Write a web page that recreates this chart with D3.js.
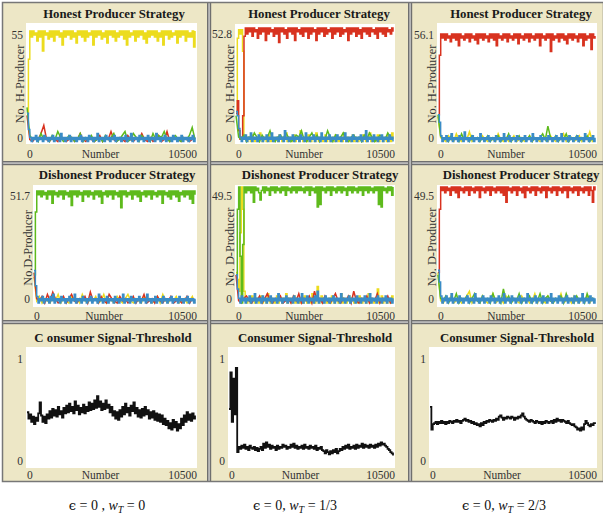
<!DOCTYPE html>
<html><head><meta charset="utf-8">
<script src="https://cdn.jsdelivr.net/npm/d3@7"></script>
<style>body{margin:0;background:#fff}text{font-family:"Liberation Serif","Times New Roman",serif}</style>
</head><body>
<svg id="c" width="603" height="523"></svg>
<script>
// ---------- DATA ----------
const xMax = 10500;
const xTickLabels = ["0", "10500"];
const xLabel = "Number";
const titles = ["Honest Producer Strategy", "Dishonest Producer Strategy", "C onsumer Signal-Threshold", "Consumer Signal-Threshold"];
const yLabels = ["No. H-Producer", "No.D-Producer", "No. D-Producer"];
const yMaxValues = [55, 52.8, 56.1, 51.7, 49.5, 49.5, 1, 1, 1];
const yMaxLabels = ["55", "52.8", "56.1", "51.7", "49.5", "49.5", "1", "1", "1"];
const captions = [["0 , ", "0"], ["0, ", "1/3"], ["0, ", "2/3"]];

// Panel 1: Honest, wT = 0
const hp0Yellow = [14,41,55,52,55,53,54,50,55,52,55,45,55,53,54,51,55,52,55,50,55,53,55,52,54,48,55,52,55,53,55,51,55,52,54,49,55,53,55,52,55,50,55,52,54,53,55,48,55,52,55,53,55,51,54,52,55,49,55,53,55,52,55,50,54,52,55,53,55,51,55,48,55,52,54,53,55,50,55,52,55,53,55,51,54,49,55,52,55,53,55,52,55,50,54,52,55,48,55,53,55,51,55,52,54,53,55,49,55,52,55,53,55,50,55,52,54,52,55,47,55];
const hp0Red = [13,1,0,2,1,4,8,1,0,2,1,0,3,1,0,1,2,0,1,4,1,0,2,1,0,1,3,0,2,1,5,1,0,2,1,0,3,1,0,2,1,4,1,0,2,0,1,3,0,1,5,0,1,2,1,0,2,1,0,1,2];
const hp0Green = [17,3,1,2,0,4,1,2,0,3,1,5,2,0,1,3,2,0,1,4,0,2,1,3,0,1,2,0,3,1,2,4,0,1,3,5,0,1,4,2,0,3,1,2,0,4,1,3,2,5,1,0,2,3,1,0,2,1,3,7,1];
const hp0Blue = [14,6,2,0,2,1,3,0,2,1,2,0,3,1,2,0,2,1,3,0,2,1,2,0,4,1,2,0,2,1,3,0,2,1,2,0,2,1,3,0,2,1,2,0,3,1,2,0,2,1,4,0,2,1,2,0,3,1,2,0,2,1,3,0,2,1,2,0,2,1,3,0,2,1,4,0,2,1,2,0,3,1,2,0,2,1,3,0,2,1,2,0,4,1,2,0,2,1,3,0,2,1,2,0,3,1,2,0,2,1,3,0,2,1,2,0,2,1,3,0,2];

// Panel 2: Honest, wT = 1/3
const hp1Yellow = [14,48,52,50,52,42,3,1,0,2,1,0,3,1,0,1,2,0,4,1,0,2,1,0,1,3,0,2,1,0,1,2,0,3,1,0,2,1,4,0,1,2,0,1,3,0,1,2,0,5,1,0,2,1,0,3,1,0,1,2,0,4,1,0,2,1,0,1,3,0,2,1,0,1,2,0,3,1,0,2,1,0,4,1,0,2,1,0,1,3,0,2,1,0,1,2,0,3,1,0,2,1,4,0,1,2,0,1,3,0,2,1,0,1,2,0,3,1,0,4,1];
const hp1Red = [13,19,5,1,2,12,49,52.8,50,52.8,51,52.8,49,52.8,51,52,48,52.8,50,52.8,51,52.8,47,52.8,50,52.8,51,52,49,52.8,50,52.8,46,52.8,51,52.8,50,52,48,52.8,51,52.8,50,52.8,47,52.8,51,52,50,52.8,49,52.8,51,52.8,48,52.8,50,52.8,51,52,47,52.8,50,52.8,51,52.8,49,52.8,50,52,51,52.8,48,52.8,50,52.8,51,52.8,49,52.8,50,52,51,52.8,47,52.8,50,52.8,51,52.8,49,52.8,50,52,48,52.8,51,52.8,50,52.8,49,52.8,51,52,50,52.8,48,52.8,51,52.8,50,52.8,49,52.8,51,52,50,52.8,51];
const hp1Green = [12,2,1,3,0,2,1,4,2,0,3,1,2,5,1,0,2,3,1,4,2,0,1,3,2,5,1,0,2,4,1,3,0,2,1,5,2,0,3,1,2,4,1,0,2,3,1,2,0,3,1,4,2,0,1,3,2,1,4,2,1];
const hp1Blue = [14,12,6,2,0,2,1,3,0,2,1,4,0,2,1,2,0,3,1,2,0,2,1,3,0,2,1,4,0,2,1,2,0,3,1,2,0,5,1,2,0,2,1,3,0,2,1,2,0,3,1,2,0,4,1,2,0,2,1,3,0,2,1,2,0,4,1,2,0,2,1,3,0,2,1,2,0,3,1,2,0,2,1,4,0,2,1,2,0,3,1,2,0,2,1,3,0,2,1,5,0,2,1,2,0,3,1,2,0,2,1,3,0,2,1,2,0,3,1,2,0];

// Panel 3: Honest, wT = 2/3
const hp2Yellow = [13,2,1,0,3,1,0,4,1,0,2,1,5,0,1,2,0,3,1,0,2,1,0,4,1,0,2,0,1,3,0,1,2,0,1,3,0,2,1,0,1,2,0,3,1,0,2,1,4,0,1,2,0,1,3,0,2,1,5,0,1];
const hp2Red = [14,45,56.1,54,56.1,53,56.1,54,55,52,56.1,54,56.1,53,56.1,50,56.1,54,55,53,56.1,54,56.1,52,56.1,54,55,53,56.1,51,56.1,54,56.1,53,56.1,54,55,52,56.1,54,56.1,53,56.1,50,56.1,54,55,53,56.1,54,56.1,52,56.1,54,55,53,56.1,54,56.1,51,56.1,54,55,53,56.1,54,56.1,52,56.1,54,55,53,56.1,54,56.1,50,56.1,54,55,53,56.1,54,56.1,47,56.1,53,55,54,56.1,52,56.1,54,56.1,53,55,51,56.1,54,56.1,53,56.1,54,55,52,56.1,54,56.1,50,56.1,53,55,54,56.1,48,56.1,54,55];
const hp2Green = [14,3,1,2,0,3,1,2,0,4,1,2,0,3,1,2,0,2,1,3,0,2,1,3,0,2,1,4,0,2,1,3,0,2,1,3,0,2,1,2,4,1,8,2,1,3,0,2,1,4,0,2,1,3,0,2,1,3,0,2,1];
const hp2Blue = [14,10,3,0,2,1,3,0,2,1,4,0,2,1,2,0,3,1,2,0,5,1,2,0,2,1,3,0,2,1,2,0,4,1,2,0,2,1,3,0,2,1,2,0,3,1,2,0,2,1,4,0,2,1,3,0,2,1,2,0,3,1,2,0,2,1,3,0,2,1,2,0,4,1,2,0,2,1,3,0,2,1,2,0,3,1,2,0,2,1,3,0,2,1,4,0,2,1,2,0,3,1,2,0,2,1,3,0,2,1,2,0,4,1,2,0,2,1,3,0,2];

// Panel 4: Dishonest, wT = 0
const dp0Yellow = [12,1,3,0,2,1,0,3,1,4,0,2,1,0,3,1,2,0,4,1,0,2,1,3,0,1,4,0,2,1,0,3,1,0,2,4,1,0,2,1,0,3,1,2,0,1,3,0,4,1,0,2,1,3,0,1,2,0,1,3,0];
const dp0Red = [14,2,1,3,0,4,1,5,2,0,1,3,0,2,4,1,0,2,1,3,0,5,1,2,0,3,1,0,4,2,1,0,3,1,2,0,1,3,0,2,1,4,0,1,2,0,3,1,0,2,1,3,0,1,2,0,1,3,0,2,1];
const dp0Green = [13,42,51.7,50,51.7,49,51.7,50,51,48,51.7,50,51.7,46,51.7,50,51,49,51.7,50,51.7,48,51.7,50,51,49,51.7,45,51.7,50,51.7,49,51.7,50,51,47,51.7,50,51.7,49,51.7,50,51,48,51.7,50,51.7,49,51.7,46,51,50,51.7,49,51.7,50,51.7,48,51.7,50,51,49,51.7,44,51.7,50,51.7,49,51,50,51.7,48,51.7,50,51.7,49,51.7,47,51,50,51.7,49,51.7,50,51.7,48,51.7,50,51,49,51.7,50,51.7,46,51.7,50,51,49,51.7,48,51.7,50,51.7,49,51.7,47,51,50,51.7,49,51.7,50,51.7,48,51.7,46,51.7,50];
const dp0Blue = [15,8,3,0,2,1,3,0,2,1,2,0,3,1,4,0,2,1,2,0,3,1,2,0,2,1,3,0,2,1,4,0,2,1,2,0,3,1,2,0,2,1,3,0,2,1,2,0,4,1,2,0,2,1,3,0,2,1,2,0,3,1,2,0,2,1,4,0,2,1,2,0,3,1,2,0,2,1,3,0,2,1,2,0,4,1,2,0,2,1,3,0,2,1,2,0,3,1,2,0,2,1,3,0,2,1,2,0,3,1,2,0,2,1,3,0,2,1,2,0,2];

// Panel 5: Dishonest, wT = 1/3
const dp1Yellow = [13,10,5,30,49.5,40,5,1,0,2,1,0,3,1,0,2,1,0,1,3,0,2,1,0,4,1,0,2,1,0,1,3,0,2,1,0,2,1,4,0,1,2,0,1,3,0,2,1,0,1,2,0,3,1,0,2,1,0,4,1,0,2,7,0,1,3,0,2,1,0,1,2,0,3,1,0,2,1,0,1,4,0,2,1,0,1,3,0,2,1,0,1,2,0,3,1,0,2,1,0,1,4,0,2,1,0,1,2,6,0,1,3,0,2,1,0,1,2,0,3,1];
const dp1Red = [12,1,0,2,3,1,0,2,1,3,0,2,4,1,0,2,1,3,0,1,2,0,3,1,4,0,2,1,3,0,5,1,2,0,3,1,0,2,4,1,0,2,1,3,0,5,1,0,2,1,3,0,2,1,4,0,2,1,3,0,1];
const dp1Green = [12,40,49.5,20,0,25,49.5,47,49.5,48,49.5,47,49.5,43,49.5,48,49,47,44,48,49.5,47,49.5,48,49,46,49.5,48,49.5,47,49.5,48,49,47,49.5,48,49.5,46,49.5,48,49,47,49.5,48,49.5,47,49.5,48,49.5,48,49,47,49.5,48,49.5,46,49.5,48,49,47,49.5,41,49.5,42,49.5,48,49,47,49.5,48,49.5,46,49.5,48,49,47,49.5,48,49.5,47,49.5,48,49,46,49.5,48,49.5,47,49.5,48,49,47,49.5,48,49.5,46,49.5,48,49.5,47,49.5,48,49,47,49.5,48,49.5,42,49.5,41,49.5,48,49,47,49.5,48,49.5,46,49.5];
const dp1Blue = [12,6,2,0,3,1,2,0,2,1,3,0,2,1,4,0,2,1,2,0,3,1,2,0,2,1,3,0,2,1,2,0,4,1,2,0,2,1,3,0,2,1,2,0,3,1,2,0,2,1,4,0,2,1,3,0,2,1,2,0,3,1,5,0,2,1,2,0,3,1,2,0,2,1,3,0,2,1,2,0,4,1,2,0,2,1,3,0,2,1,2,0,3,1,2,0,2,1,3,0,2,1,4,0,2,1,2,0,3,1,2,0,2,1,3,0,2,1,2,0,2];

// Panel 6: Dishonest, wT = 2/3
const dp2Yellow = [13,1,0,2,1,3,0,1,2,0,1,3,5,0,2,1,0,3,1,0,2,4,0,1,2,0,3,1,0,2,1,0,3,1,2,0,1,4,0,2,1,0,3,1,0,2,1,4,0,1,2,0,3,1,0,2,1,3,0,2,1];
const dp2Red = [13,40,49.5,48,49.5,47,49.5,48,49,46,49.5,48,49.5,47,49.5,45,49.5,48,49,47,49.5,48,49.5,46,49.5,48,49,47,49.5,48,49.5,45,49.5,48,49,47,49.5,48,49.5,46,49.5,48,49,47,49.5,48,49.5,47,49.5,46,49.5,43,49.5,48,49,47,49.5,48,49.5,46,49.5,48,49,47,49.5,45,49.5,48,49,47,49.5,48,49.5,46,49.5,48,49,47,49.5,48,49.5,45,49.5,48,49,47,49.5,48,49.5,46,49.5,48,49,47,49.5,48,49.5,45,49.5,48,49,47,49.5,48,49.5,46,49.5,48,49,47,49.5,48,49.5,46,49.5,48,43,49.5,48];
const dp2Green = [12,2,1,3,0,2,1,4,0,2,1,3,0,2,4,1,0,3,1,2,0,4,1,2,0,6,1,3,0,2,1,4,0,2,1,3,0,2,1,4,0,2,3,1,0,2,1,3,0,4,1,2,0,3,1,2,0,4,1,2,1];
const dp2Blue = [14,9,3,0,2,1,3,0,2,1,4,0,2,1,2,0,3,1,2,0,2,1,3,0,2,1,2,0,4,1,2,0,2,1,3,0,2,1,2,0,3,1,2,0,2,1,3,0,2,1,4,0,2,1,2,0,3,1,2,0,2,1,3,0,2,1,2,0,4,1,2,0,2,1,3,0,2,1,2,0,3,1,2,0,2,1,4,0,2,1,2,0,3,1,2,0,2,1,3,0,2,1,2,0,3,1,2,0,2,1,4,0,2,1,2,0,3,1,2,0,2];

// Row 3: consumer signal threshold
const ct0 = [0.47,0.41,0.45,0.38,0.43,0.36,0.42,0.39,0.46,0.56,0.44,0.38,0.43,0.37,0.45,0.41,0.48,0.42,0.50,0.44,0.49,0.43,0.52,0.45,0.48,0.42,0.51,0.46,0.53,0.47,0.55,0.48,0.52,0.46,0.57,0.49,0.53,0.45,0.51,0.47,0.54,0.46,0.52,0.48,0.56,0.49,0.55,0.50,0.58,0.51,0.62,0.52,0.57,0.49,0.55,0.50,0.58,0.51,0.54,0.47,0.52,0.44,0.48,0.41,0.47,0.40,0.49,0.43,0.52,0.45,0.55,0.47,0.51,0.44,0.53,0.48,0.56,0.46,0.51,0.43,0.49,0.42,0.50,0.44,0.52,0.45,0.49,0.41,0.47,0.42,0.48,0.40,0.46,0.39,0.45,0.38,0.44,0.36,0.41,0.35,0.39,0.32,0.37,0.31,0.40,0.33,0.38,0.30,0.36,0.32,0.41,0.35,0.44,0.38,0.47,0.40,0.45,0.39,0.46,0.41,0.44];
const ct1 = [0.50,0.84,0.38,0.78,0.45,0.88,0.10,0.15,0.13,0.16,0.14,0.17,0.13,0.15,0.12,0.16,0.14,0.13,0.15,0.12,0.14,0.11,0.13,0.15,0.12,0.18,0.14,0.19,0.15,0.17,0.13,0.16,0.14,0.15,0.12,0.16,0.13,0.15,0.14,0.17,0.15,0.16,0.13,0.15,0.14,0.17,0.15,0.18,0.14,0.16,0.13,0.15,0.14,0.16,0.13,0.17,0.14,0.15,0.13,0.16,0.14,0.15,0.13,0.16,0.12,0.14,0.13,0.15,0.12,0.11,0.09,0.12,0.10,0.08,0.11,0.09,0.12,0.10,0.13,0.09,0.11,0.13,0.12,0.15,0.13,0.16,0.14,0.17,0.13,0.15,0.14,0.16,0.13,0.17,0.14,0.16,0.15,0.18,0.14,0.17,0.15,0.16,0.14,0.17,0.15,0.16,0.14,0.17,0.15,0.18,0.16,0.19,0.17,0.18,0.16,0.15,0.13,0.12,0.10,0.09,0.07];
const ct2 = [0.52,0.31,0.36,0.37,0.38,0.36,0.38,0.37,0.39,0.37,0.38,0.36,0.38,0.37,0.39,0.38,0.37,0.39,0.38,0.40,0.38,0.39,0.37,0.39,0.40,0.41,0.39,0.40,0.38,0.39,0.37,0.38,0.36,0.37,0.35,0.36,0.34,0.37,0.35,0.38,0.37,0.39,0.38,0.40,0.39,0.38,0.40,0.39,0.41,0.40,0.43,0.44,0.42,0.40,0.42,0.41,0.43,0.42,0.41,0.43,0.42,0.40,0.42,0.41,0.43,0.42,0.44,0.46,0.43,0.41,0.40,0.39,0.38,0.40,0.39,0.38,0.37,0.39,0.38,0.37,0.38,0.36,0.38,0.37,0.39,0.38,0.37,0.38,0.39,0.37,0.40,0.38,0.41,0.39,0.40,0.38,0.40,0.39,0.38,0.37,0.39,0.37,0.36,0.35,0.36,0.34,0.33,0.31,0.32,0.30,0.33,0.31,0.36,0.39,0.37,0.35,0.34,0.36,0.35,0.37,0.36];

// ---------- STYLE ----------
const colors = {y: "#ECDC1E", r: "#D8321F", g: "#5EBA1C", b: "#3A8CC6", k: "#111111"};
const beige = "#EDE7C6";

// ---------- LAYOUT ----------
const panels = [
  {title: titles[0], yl: yLabels[0], series: [["y",hp0Yellow],["r",hp0Red],["g",hp0Green],["b",hp0Blue]], L:26,R:197,T:23,B:144,pMax:31,p0:141.5,tx:114,ty:18,maxB:39,zeroB:142,xB:158,ylx:24,yly:84},
  {title: titles[0], yl: yLabels[0], series: [["y",hp1Yellow],["r",hp1Red],["g",hp1Green],["b",hp1Blue]], L:235,R:395,T:24,B:144,pMax:28,p0:141.5,tx:319,ty:18,maxB:38,zeroB:142,xB:158,ylx:234,yly:84},
  {title: titles[0], yl: yLabels[0], series: [["y",hp2Yellow],["r",hp2Red],["g",hp2Green],["b",hp2Blue]], L:437,R:597,T:23,B:144,pMax:34,p0:141.5,tx:521,ty:18,maxB:39,zeroB:142,xB:158,ylx:436,yly:84},
  {title: titles[1], yl: yLabels[1], series: [["y",dp0Yellow],["r",dp0Red],["g",dp0Green],["b",dp0Blue]], L:33,R:197,T:185,B:307,pMax:191,p0:303,tx:117,ty:179,maxB:200,zeroB:303,xB:320,ylx:32,yly:248},
  {title: titles[1], yl: yLabels[2], series: [["y",dp1Yellow],["r",dp1Red],["g",dp1Green],["b",dp1Blue]], L:235,R:395,T:185,B:307,pMax:187,p0:303,tx:320,ty:179,maxB:200,zeroB:303,xB:320,ylx:234,yly:247},
  {title: titles[1], yl: yLabels[2], series: [["y",dp2Yellow],["r",dp2Red],["g",dp2Green],["b",dp2Blue]], L:437,R:597,T:185,B:307,pMax:187,p0:303,tx:521,ty:179,maxB:200,zeroB:303,xB:320,ylx:436,yly:247},
  {title: titles[2], yl: null, series: [["k",ct0]], L:26,R:197,T:347,B:468,pMax:355,p0:463,tx:113,ty:342,maxB:363,zeroB:465,xB:479},
  {title: titles[3], yl: null, series: [["k",ct1]], L:228,R:395,T:347,B:468,pMax:355,p0:463,tx:315,ty:342,maxB:363,zeroB:465,xB:479},
  {title: titles[3], yl: null, series: [["k",ct2]], L:429,R:597,T:347,B:468,pMax:355,p0:463,tx:517,ty:342,maxB:363,zeroB:465,xB:479}
];

const svg = d3.select("#c");
svg.append("rect").attr("x",3).attr("y",3).attr("width",600).attr("height",478).attr("fill",beige);

panels.forEach((p, pi) => {
  const g = svg.append("g");
  g.append("rect").attr("x",p.L).attr("y",p.T).attr("width",p.R-p.L).attr("height",p.B-p.T).attr("fill","#fff");
  const x = d3.scaleLinear().domain([0, xMax]).range([p.L + 1, p.R - 2]);
  const y = d3.scaleLinear().domain([0, yMaxValues[pi]]).range([p.p0, p.pMax]);
  p.series.forEach(([c, vals]) => {
    const n = vals.length;
    // dense series (121 samples) drawn as steps; sparse near-zero series as plain lines
    const curve = n > 100 ? d3.curveStepAfter : d3.curveLinear;
    const line = d3.line().curve(curve).x((d, i) => x(i * xMax / (n - 1))).y(d => y(d));
    g.append("path").attr("d", line(vals)).attr("fill","none")
      .attr("stroke", colors[c]).attr("stroke-width", c === "k" ? 1.8 : 1.5);
  });
  g.append("text").attr("x",p.tx).attr("y",p.ty).attr("text-anchor","middle")
    .attr("font-size",12.8).attr("font-weight","bold").attr("fill","#1a1a1a").text(p.title);
  g.append("text").attr("x",p.L-3).attr("y",p.maxB).attr("text-anchor","end").attr("font-size",11.5).attr("fill","#333").text(yMaxLabels[pi]);
  g.append("text").attr("x",p.L-3).attr("y",p.zeroB).attr("text-anchor","end").attr("font-size",11.5).attr("fill","#333").text("0");
  if (p.yl) {
    g.append("text").attr("transform",`translate(${p.ylx},${p.yly}) rotate(-90)`).attr("text-anchor","middle")
      .attr("font-size",12.3).attr("fill","#333").text(p.yl);
  }
  const t0 = g.append("text").attr("x",p.L+1).attr("y",p.xB).attr("font-size",11.5).attr("fill","#333").text(xTickLabels[0]);
  const t1 = g.append("text").attr("x",p.R).attr("y",p.xB).attr("text-anchor","end").attr("font-size",11.5).attr("fill","#333").text(xTickLabels[1]);
  const w0 = t0.node().getComputedTextLength(), w1 = t1.node().getComputedTextLength();
  g.append("text").attr("x",((p.L+1+w0)+(p.R-w1))/2).attr("y",p.xB).attr("text-anchor","middle").attr("font-size",11.5).attr("fill","#333").text(xLabel);
});

function vsep(xp, y0, y1) {
  svg.append("rect").attr("x",xp).attr("y",y0).attr("width",4).attr("height",y1-y0).attr("fill","#b9b9b9");
  svg.append("rect").attr("x",xp).attr("y",y0).attr("width",1.2).attr("height",y1-y0).attr("fill","#6f6f6f");
  svg.append("rect").attr("x",xp+3).attr("y",y0).attr("width",1.2).attr("height",y1-y0).attr("fill","#6f6f6f");
}
function hsep(yp, x0, x1) {
  svg.append("rect").attr("x",x0).attr("y",yp).attr("width",x1-x0).attr("height",4).attr("fill","#b9b9b9");
  svg.append("rect").attr("x",x0).attr("y",yp).attr("width",x1-x0).attr("height",1.2).attr("fill","#6f6f6f");
  svg.append("rect").attr("x",x0).attr("y",yp+3).attr("width",x1-x0).attr("height",1.2).attr("fill","#6f6f6f");
}
hsep(161, 3, 603);
hsep(320, 3, 603);
vsep(207, 3, 481);
vsep(408, 3, 481);
svg.append("rect").attr("x",2.5).attr("y",2.5).attr("width",601).attr("height",479).attr("fill","none").attr("stroke","#777").attr("stroke-width",1.5);

const capX = [107, 295, 504];
captions.forEach((c, i) => {
  const t = svg.append("text").attr("x",capX[i]).attr("y",510).attr("text-anchor","middle").attr("font-size",14).attr("fill","#111");
  t.append("tspan").attr("font-family","DejaVu Serif").attr("font-size",13).text("\u03F5");
  t.append("tspan").text(" = " + c[0]);
  t.append("tspan").attr("font-style","italic").text("w");
  t.append("tspan").attr("font-style","italic").attr("font-size",10).attr("dy",3).text("T");
  t.append("tspan").attr("dy",-3).text(" = " + c[1]);
});
</script>
</body></html>
